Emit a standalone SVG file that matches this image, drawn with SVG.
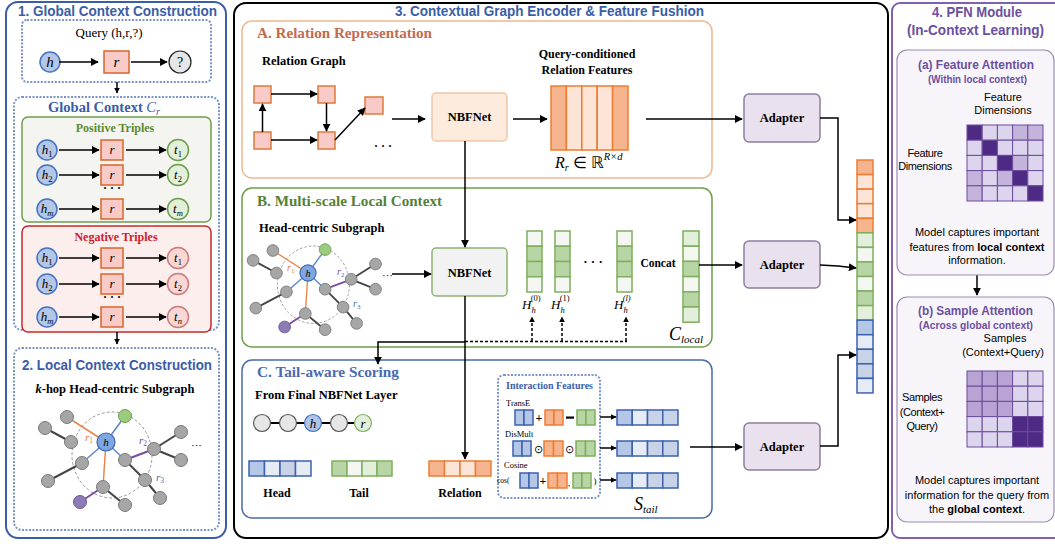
<svg xmlns="http://www.w3.org/2000/svg" width="1055" height="544" viewBox="0 0 1055 544">
<style>
.sans{font-family:"Liberation Sans",Arial,sans-serif}
.sb{font-family:"Liberation Sans",Arial,sans-serif;font-weight:bold}
.serif{font-family:"Liberation Serif","Times New Roman",serif}
.sbold{font-family:"Liberation Serif","Times New Roman",serif;font-weight:bold}
.it{font-style:italic}
.ln{stroke:#000;stroke-width:1.5;fill:none}
.dot{fill:none;stroke:#7A93C8;stroke-width:2;stroke-dasharray:2 1.5}
.hC{fill:#B4C7E7;stroke:#4472C4;stroke-width:1.5}
.rB{fill:#F8CBC8;stroke:#D9662A;stroke-width:1.5}
.tP{fill:#E2EFDA;stroke:#6E9E4C;stroke-width:1.5}
.tN{fill:#F8D7D5;stroke:#CC7A7A;stroke-width:1.5}
.o1{fill:#F6B48E;stroke:#ED7D31;stroke-width:1.5}
.o2{fill:#FCE4D6;stroke:#ED7D31;stroke-width:1.5}
.g1{fill:#B8D6A5;stroke:#7FAE5E;stroke-width:1.5}
.g2{fill:#E2EFDA;stroke:#7FAE5E;stroke-width:1.5}
.g3{fill:#F4F7F1;stroke:#7FAE5E;stroke-width:1.5}
.b1{fill:#B4C7E7;stroke:#3C62AE;stroke-width:1.5}
.b2{fill:#E6ECF6;stroke:#3C62AE;stroke-width:1.5}
.b3{fill:#C9D3E8;stroke:#3C62AE;stroke-width:1.5}
.pd{fill:#4E2A84;stroke:#6A4C9C;stroke-width:1}
.pm{fill:#C4B4DC;stroke:#6A4C9C;stroke-width:1}
.pl{fill:#DDD5EE;stroke:#6A4C9C;stroke-width:1}
.pb{fill:#B9A3D5;stroke:#6A4C9C;stroke-width:1}
.adp{fill:#E9E1EE;stroke:#8E7FA0;stroke-width:1.5}
.gn{fill:#A6A6A6;stroke:#7A7A7A;stroke-width:1}
.ed{stroke:#444;stroke-width:2}
.eb{stroke:#5A86D0;stroke-width:1.5}
.eo{stroke:#E8874A;stroke-width:1.5}
.ep{stroke:#7A4CA0;stroke-width:2}
.rel{fill:#F8CBC8;stroke:#E07A3A;stroke-width:1.5}
</style>
<defs>
<marker id="arr" viewBox="0 0 10 10" refX="9" refY="5" markerWidth="8" markerHeight="8" markerUnits="userSpaceOnUse" orient="auto"><path d="M0,0 L10,5 L0,10 z" fill="#000"/></marker>
<marker id="arrs" viewBox="0 0 10 10" refX="9" refY="5" markerWidth="6" markerHeight="6" markerUnits="userSpaceOnUse" orient="auto-start-reverse"><path d="M0,0 L10,5 L0,10 z" fill="#000"/></marker>
<g id="subg">
<ellipse cx="6" cy="13" rx="40" ry="43" fill="none" stroke="#999" stroke-width="1" stroke-dasharray="3 2"/>
<line class="eo" x1="-39" y1="-25" x2="0" y2="0"/>
<line class="eo" x1="0" y1="0" x2="-3" y2="45"/>
<line class="ed" x1="-61" y1="-14" x2="-35" y2="0"/>
<line class="ed" x1="-24" y1="21" x2="-58" y2="39"/>
<line class="ed" x1="48" y1="7" x2="75" y2="-10"/>
<line class="ed" x1="48" y1="7" x2="75" y2="18"/>
<line class="ed" x1="19" y1="18" x2="39" y2="38"/>
<line class="ed" x1="39" y1="38" x2="54" y2="56"/>
<line class="ed" x1="-3" y1="45" x2="19" y2="63"/>
<line class="eb" x1="0" y1="0" x2="19" y2="-26"/>
<line class="eb" x1="0" y1="0" x2="-24" y2="21"/>
<line class="eb" x1="0" y1="0" x2="19" y2="18"/>
<line class="ep" x1="19" y1="18" x2="48" y2="7"/>
<line class="ep" x1="-3" y1="45" x2="-26" y2="60"/>
<circle class="gn" cx="-39" cy="-25" r="6.5"/>
<circle class="gn" cx="-61" cy="-14" r="6.5"/>
<circle class="gn" cx="-35" cy="0" r="6.5"/>
<circle cx="19" cy="-26" r="6.5" fill="#9BCB7E" stroke="#6E9E4C"/>
<circle class="gn" cx="-24" cy="21" r="6.5"/>
<circle class="gn" cx="-58" cy="39" r="6.5"/>
<circle class="gn" cx="19" cy="18" r="6.5"/>
<circle class="gn" cx="48" cy="7" r="6.5"/>
<circle class="gn" cx="75" cy="-10" r="6.5"/>
<circle class="gn" cx="75" cy="18" r="6.5"/>
<circle class="gn" cx="39" cy="38" r="6.5"/>
<circle class="gn" cx="54" cy="56" r="6.5"/>
<circle class="gn" cx="-3" cy="45" r="6.5"/>
<circle cx="-26" cy="60" r="6.5" fill="#8C7BB5" stroke="#6A5A98"/>
<circle class="gn" cx="19" cy="63" r="6.5"/>
<circle cx="0" cy="0" r="9" fill="#7EA6E0" stroke="#3C64B0" stroke-width="1.2"/>
</g>
</defs>
<rect width="1055" height="544" fill="#fff"/>

<!-- Panel 1 -->
<g id="panel1">
<rect x="6" y="2" width="220" height="536" rx="12" fill="#fff" stroke="#3A5DA8" stroke-width="2"/>
<text class="sb" x="18" y="16" font-size="14.5" fill="#3A5DA8" textLength="199" lengthAdjust="spacingAndGlyphs">1. Global Context Construction</text>
</g>
<g id="query">
<rect class="dot" x="22" y="20" width="189" height="62" rx="5"/>
<text class="serif" x="109" y="37" font-size="13" text-anchor="middle">Query (h,r,?)</text>
<circle class="hC" cx="50" cy="62" r="10"/>
<text class="serif it" x="50" y="67" font-size="15" text-anchor="middle">h</text>
<rect class="rB" x="104" y="51" width="25" height="22"/>
<text class="serif it" x="116.5" y="67" font-size="15" text-anchor="middle">r</text>
<circle cx="180" cy="62" r="11" fill="#E6E6E6" stroke="#222" stroke-width="1.2"/>
<text class="serif" x="180" y="67" font-size="14" text-anchor="middle">?</text>
</g>
<g id="globalctx">
<rect class="dot" x="14" y="97" width="205" height="233" rx="8"/>
<text class="sbold" x="104" y="112" font-size="14.5" fill="#3A5DA8" text-anchor="middle">Global Context <tspan class="it" font-weight="normal">C</tspan><tspan class="it" font-weight="normal" font-size="10" dy="3">r</tspan></text>
</g>
<g id="positive">
<rect x="22" y="117" width="189" height="105" rx="6" fill="#F4F4F0" stroke="#6E9E4C" stroke-width="1.5"/>
<text class="sbold" x="115" y="132" font-size="12" fill="#5B8C32" text-anchor="middle">Positive Triples</text>
<circle class="hC" cx="47" cy="150" r="10"/><text class="serif it" x="47" y="154" font-size="13" text-anchor="middle">h<tspan font-style="normal" font-size="8.5" dy="2.5">1</tspan></text>
<rect class="rB" x="101" y="140" width="22" height="20"/><text class="serif it" x="112" y="154" font-size="13" text-anchor="middle">r</text>
<circle class="tP" cx="178" cy="150" r="10.5"/><text class="serif it" x="178" y="154" font-size="13" text-anchor="middle">t<tspan font-style="normal" font-size="8.5" dy="2.5">1</tspan></text>
<circle class="hC" cx="47" cy="175" r="10"/><text class="serif it" x="47" y="179" font-size="13" text-anchor="middle">h<tspan font-style="normal" font-size="8.5" dy="2.5">2</tspan></text>
<rect class="rB" x="101" y="165" width="22" height="20"/><text class="serif it" x="112" y="179" font-size="13" text-anchor="middle">r</text>
<circle class="tP" cx="178" cy="175" r="10.5"/><text class="serif it" x="178" y="179" font-size="13" text-anchor="middle">t<tspan font-style="normal" font-size="8.5" dy="2.5">2</tspan></text>
<text class="sbold" x="112" y="192" font-size="12" text-anchor="middle">· · ·</text>
<circle class="hC" cx="47" cy="209" r="10"/><text class="serif it" x="47" y="213" font-size="13" text-anchor="middle">h<tspan font-size="8.5" dy="2.5">m</tspan></text>
<rect class="rB" x="101" y="199" width="22" height="20"/><text class="serif it" x="112" y="213" font-size="13" text-anchor="middle">r</text>
<circle class="tP" cx="178" cy="209" r="10.5"/><text class="serif it" x="178" y="213" font-size="13" text-anchor="middle">t<tspan font-size="8.5" dy="2.5">m</tspan></text>
</g>
<g id="negative">
<rect x="22" y="226" width="189" height="106" rx="6" fill="#FDEEEE" stroke="#C62828" stroke-width="1.5"/>
<text class="sbold" x="116" y="241" font-size="12" fill="#D0202A" text-anchor="middle">Negative Triples</text>
<circle class="hC" cx="47" cy="258" r="10"/><text class="serif it" x="47" y="262" font-size="13" text-anchor="middle">h<tspan font-style="normal" font-size="8.5" dy="2.5">1</tspan></text>
<rect class="rB" x="101" y="248" width="22" height="20"/><text class="serif it" x="112" y="262" font-size="13" text-anchor="middle">r</text>
<circle class="tN" cx="178" cy="258" r="10.5"/><text class="serif it" x="178" y="262" font-size="13" text-anchor="middle">t<tspan font-style="normal" font-size="8.5" dy="2.5">1</tspan></text>
<circle class="hC" cx="47" cy="284" r="10"/><text class="serif it" x="47" y="288" font-size="13" text-anchor="middle">h<tspan font-style="normal" font-size="8.5" dy="2.5">2</tspan></text>
<rect class="rB" x="101" y="274" width="22" height="20"/><text class="serif it" x="112" y="288" font-size="13" text-anchor="middle">r</text>
<circle class="tN" cx="178" cy="284" r="10.5"/><text class="serif it" x="178" y="288" font-size="13" text-anchor="middle">t<tspan font-style="normal" font-size="8.5" dy="2.5">2</tspan></text>
<text class="sbold" x="112" y="301" font-size="12" text-anchor="middle">· · ·</text>
<circle class="hC" cx="47" cy="317" r="10"/><text class="serif it" x="47" y="321" font-size="13" text-anchor="middle">h<tspan font-size="8.5" dy="2.5">m</tspan></text>
<rect class="rB" x="101" y="307" width="22" height="20"/><text class="serif it" x="112" y="321" font-size="13" text-anchor="middle">r</text>
<circle class="tN" cx="178" cy="317" r="10.5"/><text class="serif it" x="178" y="321" font-size="13" text-anchor="middle">t<tspan font-size="8.5" dy="2.5">n</tspan></text>
</g>
<g id="localctx">
<rect class="dot" x="14" y="348" width="205" height="182" rx="8"/>
<text class="sb" x="22" y="370" font-size="14.5" fill="#3A5DA8" textLength="190" lengthAdjust="spacingAndGlyphs">2. Local Context Construction</text>
<text class="sbold" x="115" y="393" font-size="12.5" text-anchor="middle"><tspan class="it">k</tspan>-hop Head-centric Subgraph</text>
<use href="#subg" transform="translate(106,442)"/>
<text class="serif it" x="106" y="446" font-size="11" text-anchor="middle">h</text>
<text class="serif it" x="85" y="441" font-size="11" fill="#E07A3A">r<tspan font-style="normal" font-size="7.5" dy="2">1</tspan></text>
<text class="serif it" x="139" y="444" font-size="11" fill="#7A4CA0">r<tspan font-style="normal" font-size="7.5" dy="2">2</tspan></text>
<text class="serif it" x="156" y="481" font-size="11" fill="#4A6BAF">r<tspan font-style="normal" font-size="7.5" dy="2">3</tspan></text>
<text class="serif" x="191" y="449" font-size="11">···</text>
</g>

<!-- Section 3 -->
<g id="section3">
<rect x="234" y="3" width="654" height="535" rx="12" fill="none" stroke="#000" stroke-width="2"/>
<text class="sb" x="395" y="16" font-size="14.5" fill="#3A5DA8" textLength="309" lengthAdjust="spacingAndGlyphs">3. Contextual Graph Encoder &amp; Feature Fushion</text>
</g>
<g id="secA">
<rect x="242" y="21" width="470" height="157" rx="10" fill="#fff" stroke="#F0B890" stroke-width="1.5"/>
<text class="sbold" x="257" y="38" font-size="14.5" fill="#C46A4E" textLength="175" lengthAdjust="spacingAndGlyphs">A. Relation Representation</text>
<text class="sbold" x="262" y="65" font-size="12.5">Relation Graph</text>
<rect class="rel" x="254" y="86" width="17" height="17"/>
<rect class="rel" x="318" y="86" width="17" height="17"/>
<rect class="rel" x="254" y="132" width="17" height="17"/>
<rect class="rel" x="318" y="132" width="17" height="17"/>
<rect class="rel" x="365" y="97" width="18" height="17"/>
<text class="sbold" x="383" y="150" font-size="12" text-anchor="middle">· · ·</text>
<text class="sbold" x="587" y="58" font-size="12" text-anchor="middle">Query-conditioned</text>
<text class="sbold" x="587" y="74" font-size="12" text-anchor="middle">Relation Features</text>
<rect class="o1" x="551" y="86" width="15.4" height="64"/>
<rect class="o2" x="566.4" y="86" width="15.4" height="64"/>
<rect class="o2" x="581.8" y="86" width="15.4" height="64"/>
<rect class="o2" x="597.2" y="86" width="15.4" height="64"/>
<rect class="o1" x="612.6" y="86" width="15.4" height="64"/>
<text class="serif it" x="555" y="168" font-size="16">R<tspan font-size="10" dy="3">r</tspan><tspan font-style="normal" dy="-3"> ∈ ℝ</tspan><tspan font-size="10.5" dy="-8">R×d</tspan></text>
</g>
<g id="nbfA">
<rect x="432" y="93" width="75" height="48" rx="4" fill="#FDEBDD" stroke="#F0C8A8" stroke-width="1.5"/>
<text class="sbold" x="469.5" y="121" font-size="12.5" text-anchor="middle">NBFNet</text>
</g>
<g id="secB">
<rect x="242" y="188" width="470" height="159" rx="10" fill="#fff" stroke="#6E9E4C" stroke-width="1.5"/>
<text class="sbold" x="257" y="206" font-size="14.5" fill="#548235" textLength="185" lengthAdjust="spacingAndGlyphs">B. Multi-scale Local Context</text>
<text class="sbold" x="259" y="232" font-size="12.5">Head-centric Subgraph</text>
<use href="#subg" transform="translate(308,273) scale(0.9)"/>
<text class="serif it" x="308" y="277" font-size="10" text-anchor="middle">h</text>
<text class="serif it" x="287" y="271" font-size="10" fill="#E07A3A">r<tspan font-style="normal" font-size="7" dy="2">1</tspan></text>
<text class="serif it" x="337" y="275" font-size="10" fill="#7A4CA0">r<tspan font-style="normal" font-size="7" dy="2">2</tspan></text>
<text class="serif it" x="353" y="307" font-size="10" fill="#4A6BAF">r<tspan font-style="normal" font-size="7" dy="2">3</tspan></text>
<text class="serif" x="382" y="279" font-size="11">···</text>
<rect class="g3" x="527" y="231" width="15" height="15.25"/><rect class="g1" x="527" y="246.25" width="15" height="15.25"/><rect class="g1" x="527" y="261.5" width="15" height="15.25"/><rect class="g3" x="527" y="276.75" width="15" height="15.25"/>
<rect class="g3" x="555" y="231" width="15" height="15.25"/><rect class="g1" x="555" y="246.25" width="15" height="15.25"/><rect class="g1" x="555" y="261.5" width="15" height="15.25"/><rect class="g3" x="555" y="276.75" width="15" height="15.25"/>
<rect class="g3" x="617" y="231" width="15" height="15.25"/><rect class="g1" x="617" y="246.25" width="15" height="15.25"/><rect class="g1" x="617" y="261.5" width="15" height="15.25"/><rect class="g3" x="617" y="276.75" width="15" height="15.25"/>
<text class="sbold" x="593" y="266" font-size="13" text-anchor="middle">· · ·</text>
<text class="serif it" x="522" y="309" font-size="13">H<tspan font-size="8.5" dy="4">h</tspan><tspan font-style="normal" font-size="8.5" dx="-5" dy="-12">(0)</tspan></text>
<text class="serif it" x="551" y="309" font-size="13">H<tspan font-size="8.5" dy="4">h</tspan><tspan font-style="normal" font-size="8.5" dx="-5" dy="-12">(1)</tspan></text>
<text class="serif it" x="614" y="309" font-size="13">H<tspan font-size="8.5" dy="4">h</tspan><tspan font-size="8.5" dx="-5" dy="-12">(<tspan>l</tspan>)</tspan></text>
<text class="sbold" x="658" y="267" font-size="11.5" text-anchor="middle">Concat</text>
<rect class="g2" x="683" y="231" width="16" height="15.2"/><rect class="g3" x="683" y="246.2" width="16" height="15.2"/><rect class="g1" x="683" y="261.4" width="16" height="15.2"/><rect class="g3" x="683" y="276.6" width="16" height="15.2"/><rect class="g1" x="683" y="291.8" width="16" height="15.2"/><rect class="g2" x="683" y="307" width="16" height="15.2"/>
<text class="serif it" x="669" y="340" font-size="18">C<tspan font-size="11" dy="3">local</tspan></text>
</g>
<g id="nbfB">
<rect x="432" y="248" width="75" height="48" rx="4" fill="#F2F2F2" stroke="#8DB173" stroke-width="1.5"/>
<text class="sbold" x="469.5" y="277" font-size="12.5" text-anchor="middle">NBFNet</text>
</g>
<g id="secC">
<rect x="242" y="360" width="470" height="158" rx="10" fill="#fff" stroke="#4A6BAF" stroke-width="1.5"/>
<text class="sbold" x="257" y="377" font-size="14.5" fill="#4A6BAF" textLength="142" lengthAdjust="spacingAndGlyphs">C. Tail-aware Scoring</text>
<text class="sbold" x="255" y="399" font-size="12.5">From Final NBFNet Layer</text>
<line x1="262" y1="423" x2="363" y2="423" stroke="#000" stroke-width="2"/>
<circle cx="262" cy="423" r="8.5" fill="#E6E6E6" stroke="#555" stroke-width="1.2"/>
<circle cx="288" cy="423" r="8.5" fill="#E6E6E6" stroke="#555" stroke-width="1.2"/>
<circle cx="313" cy="423" r="8.5" fill="#AFC4E6" stroke="#4472C4" stroke-width="1.2"/>
<text class="serif it" x="313" y="427.5" font-size="13" text-anchor="middle">h</text>
<circle cx="339" cy="423" r="8.5" fill="#E6E6E6" stroke="#555" stroke-width="1.2"/>
<circle cx="363" cy="423" r="8.5" fill="#E2EFDA" stroke="#7FAE5E" stroke-width="1.2"/>
<text class="serif it" x="363" y="427.5" font-size="13" text-anchor="middle">r</text>
<rect class="b1" x="249" y="461" width="15.5" height="15"/><rect class="b2" x="264.5" y="461" width="15.5" height="15"/><rect class="b3" x="280" y="461" width="15.5" height="15"/><rect class="b2" x="295.5" y="461" width="15.5" height="15"/>
<rect class="g1" x="332" y="461" width="15" height="15"/><rect class="g3" x="347" y="461" width="15" height="15"/><rect class="g2" x="362" y="461" width="15" height="15"/><rect class="g1" x="377" y="461" width="15" height="15"/>
<rect class="o1" x="429" y="461" width="15.5" height="15"/><rect class="o2" x="444.5" y="461" width="15.5" height="15"/><rect class="o2" x="460" y="461" width="15.5" height="15"/><rect class="o1" x="475.5" y="461" width="15.5" height="15"/>
<text class="sbold" x="277" y="497" font-size="12" text-anchor="middle">Head</text>
<text class="sbold" x="359" y="497" font-size="12" text-anchor="middle">Tail</text>
<text class="sbold" x="460" y="497" font-size="12" text-anchor="middle">Relation</text>
</g>
<g id="interaction">
<rect class="dot" x="498" y="375" width="102" height="123" rx="6"/>
<text class="sbold" x="549.5" y="389" font-size="9.5" fill="#3A5DA8" text-anchor="middle" textLength="87" lengthAdjust="spacingAndGlyphs">Interaction Features</text>
<text class="serif" x="506" y="406" font-size="8.5">TransE</text>
<rect class="b1" x="515" y="410" width="9" height="15"/><rect class="b1" x="524" y="410" width="9" height="15"/>
<text class="sbold" x="539" y="421.5" font-size="12" text-anchor="middle">+</text>
<rect class="o1" x="545" y="410" width="9" height="15"/><rect class="o1" x="554" y="410" width="9" height="15"/>
<rect x="566" y="416.5" width="8" height="2.2" fill="#000"/>
<rect class="g1" x="577" y="410" width="9" height="15"/><rect class="g1" x="586" y="410" width="9" height="15"/>
<text class="serif" x="505" y="437" font-size="8.5">DisMult</text>
<rect class="b1" x="513" y="441" width="9" height="15"/><rect class="b1" x="522" y="441" width="9" height="15"/>
<text class="sans" x="538" y="452.5" font-size="11" text-anchor="middle">⊙</text>
<rect class="o1" x="544" y="441" width="9.5" height="15"/><rect class="o1" x="553.5" y="441" width="9.5" height="15"/>
<text class="sans" x="569.5" y="452.5" font-size="11" text-anchor="middle">⊙</text>
<rect class="g1" x="576" y="441" width="9.5" height="15"/><rect class="g1" x="585.5" y="441" width="9.5" height="15"/>
<text class="serif" x="504" y="468" font-size="8.5">Cosine</text>
<text class="serif" x="497" y="483" font-size="7.5">cos(</text>
<rect class="b1" x="520" y="473" width="9" height="15"/><rect class="b1" x="529" y="473" width="9" height="15"/>
<text class="sbold" x="543" y="484.5" font-size="12" text-anchor="middle">+</text>
<rect class="o1" x="548" y="473" width="9.5" height="15"/><rect class="o1" x="557.5" y="473" width="9.5" height="15"/>
<text class="serif" x="569" y="486" font-size="9" text-anchor="middle">,</text>
<rect class="g1" x="573" y="473" width="9" height="15"/><rect class="g1" x="582" y="473" width="9" height="15"/>
<text class="serif" x="595" y="484" font-size="9" text-anchor="middle">)</text>
<rect class="b1" x="617" y="410" width="15.25" height="15"/><rect class="b2" x="632.25" y="410" width="15.25" height="15"/><rect class="b3" x="647.5" y="410" width="15.25" height="15"/><rect class="b3" x="662.75" y="410" width="15.25" height="15"/>
<rect class="b1" x="617" y="441" width="15.25" height="15"/><rect class="b2" x="632.25" y="441" width="15.25" height="15"/><rect class="b3" x="647.5" y="441" width="15.25" height="15"/><rect class="b3" x="662.75" y="441" width="15.25" height="15"/>
<rect class="b1" x="617" y="473" width="15.25" height="15"/><rect class="b2" x="632.25" y="473" width="15.25" height="15"/><rect class="b3" x="647.5" y="473" width="15.25" height="15"/><rect class="b3" x="662.75" y="473" width="15.25" height="15"/>
<text class="serif it" x="634" y="510" font-size="18">S<tspan font-size="11" dy="3">tail</tspan></text>
</g>
<g id="adapter1"><rect class="adp" x="744" y="94" width="76" height="48" rx="5"/><text class="sbold" x="782" y="122" font-size="12.5" text-anchor="middle">Adapter</text></g>
<g id="adapter2"><rect class="adp" x="744" y="241" width="76" height="47" rx="5"/><text class="sbold" x="782" y="269" font-size="12.5" text-anchor="middle">Adapter</text></g>
<g id="adapter3"><rect class="adp" x="744" y="423" width="76" height="47" rx="5"/><text class="sbold" x="782" y="451" font-size="12.5" text-anchor="middle">Adapter</text></g>
<g id="fused">
<rect class="o1" x="857" y="160" width="16" height="14.56"/>
<rect class="o2" x="857" y="174.56" width="16" height="14.56"/>
<rect class="o2" x="857" y="189.12" width="16" height="14.56"/>
<rect class="o2" x="857" y="203.68" width="16" height="14.56"/>
<rect class="o1" x="857" y="218.24" width="16" height="14.56"/>
<rect class="g2" x="857" y="232.8" width="16" height="14.56"/>
<rect class="g3" x="857" y="247.36" width="16" height="14.56"/>
<rect class="g1" x="857" y="261.92" width="16" height="14.56"/>
<rect class="g3" x="857" y="276.48" width="16" height="14.56"/>
<rect class="g1" x="857" y="291.04" width="16" height="14.56"/>
<rect class="g2" x="857" y="305.6" width="16" height="14.56"/>
<rect class="b1" x="857" y="320.16" width="16" height="14.56"/>
<rect class="b2" x="857" y="334.72" width="16" height="14.56"/>
<rect class="b3" x="857" y="349.28" width="16" height="14.56"/>
<rect class="b3" x="857" y="363.84" width="16" height="14.56"/>
<rect class="b2" x="857" y="378.4" width="16" height="14.56"/>
</g>

<!-- Connectors -->
<g id="connectors" fill="none">
<line class="ln" x1="59" y1="62" x2="98" y2="62" marker-end="url(#arr)"/>
<line class="ln" x1="131" y1="62" x2="167" y2="62" marker-end="url(#arr)"/>
<line class="ln" x1="117" y1="82" x2="117" y2="93" stroke-width="1.2" marker-end="url(#arrs)"/>
<line class="ln" x1="59" y1="150" x2="99" y2="150" marker-end="url(#arr)"/>
<line class="ln" x1="126" y1="150" x2="166" y2="150" marker-end="url(#arr)"/>
<line class="ln" x1="59" y1="175" x2="99" y2="175" marker-end="url(#arr)"/>
<line class="ln" x1="126" y1="175" x2="166" y2="175" marker-end="url(#arr)"/>
<line class="ln" x1="59" y1="209" x2="99" y2="209" marker-end="url(#arr)"/>
<line class="ln" x1="126" y1="209" x2="166" y2="209" marker-end="url(#arr)"/>
<line class="ln" x1="59" y1="258" x2="99" y2="258" marker-end="url(#arr)"/>
<line class="ln" x1="126" y1="258" x2="166" y2="258" marker-end="url(#arr)"/>
<line class="ln" x1="59" y1="284" x2="99" y2="284" marker-end="url(#arr)"/>
<line class="ln" x1="126" y1="284" x2="166" y2="284" marker-end="url(#arr)"/>
<line class="ln" x1="59" y1="317" x2="99" y2="317" marker-end="url(#arr)"/>
<line class="ln" x1="126" y1="317" x2="166" y2="317" marker-end="url(#arr)"/>
<line class="ln" x1="117" y1="332" x2="117" y2="344" stroke-width="1.2" marker-end="url(#arrs)"/>
<line class="ln" x1="271" y1="94" x2="317" y2="94" marker-end="url(#arr)"/>
<line class="ln" x1="271" y1="140" x2="317" y2="140" stroke="#444" stroke-width="2" marker-end="url(#arr)"/>
<line class="ln" x1="262.5" y1="132" x2="262.5" y2="104" stroke="#444" stroke-width="2" marker-end="url(#arr)"/>
<line class="ln" x1="326.5" y1="103" x2="326.5" y2="131" stroke="#444" stroke-width="2" marker-end="url(#arr)"/>
<line class="ln" x1="335" y1="140" x2="365" y2="108" marker-end="url(#arr)"/>
<line class="ln" x1="392" y1="119" x2="425" y2="119" marker-end="url(#arr)"/>
<line class="ln" x1="513" y1="119" x2="547" y2="119" marker-end="url(#arr)"/>
<line class="ln" x1="646" y1="119" x2="742" y2="119" marker-end="url(#arr)"/>
<line class="ln" x1="465" y1="141" x2="465" y2="247" stroke="#333" stroke-width="1.8" marker-end="url(#arr)"/>
<line class="ln" x1="392" y1="274" x2="431" y2="274" marker-end="url(#arr)"/>
<line class="ln" x1="465" y1="296" x2="465" y2="459" stroke="#333" stroke-width="1.8" marker-end="url(#arr)"/>
<polyline class="ln" points="465,342 378,342 378,364" stroke-width="2" marker-end="url(#arr)"/>
<polyline class="ln" points="465,341.5 627,341.5" stroke-width="1.2" stroke-dasharray="3 2"/>
<line class="ln" x1="532" y1="341" x2="532" y2="317" stroke-width="1.2" stroke-dasharray="3 2" marker-end="url(#arrs)"/>
<line class="ln" x1="562" y1="341" x2="562" y2="317" stroke-width="1.2" stroke-dasharray="3 2" marker-end="url(#arrs)"/>
<line class="ln" x1="626" y1="341" x2="626" y2="317" stroke-width="1.2" stroke-dasharray="3 2" marker-end="url(#arrs)"/>
<line class="ln" x1="699" y1="265" x2="742" y2="265" stroke-width="1.2" marker-end="url(#arr)"/>
<line class="ln" x1="600" y1="417" x2="616" y2="417" stroke-width="1.2" marker-end="url(#arrs)"/>
<line class="ln" x1="600" y1="448" x2="616" y2="448" stroke-width="1.2" marker-end="url(#arrs)"/>
<line class="ln" x1="600" y1="480" x2="616" y2="480" stroke-width="1.2" marker-end="url(#arrs)"/>
<line class="ln" x1="690" y1="447" x2="742" y2="447" marker-end="url(#arr)"/>
<polyline class="ln" points="820,118 838,118 838,220 856,220" stroke-width="1.2" marker-end="url(#arr)"/>
<polyline class="ln" points="820,265 838,266 856,268" stroke-width="1.2" marker-end="url(#arr)"/>
<polyline class="ln" points="820,446 838,446 838,355 856,355" stroke-width="1.2" marker-end="url(#arr)"/>
<line class="ln" x1="977" y1="275" x2="977" y2="295" marker-end="url(#arr)"/>
<line class="ln" x1="967" y1="117" x2="1045" y2="117" stroke-width="1.2" marker-start="url(#arrs)" marker-end="url(#arrs)"/>
<line class="ln" x1="956" y1="127" x2="956" y2="202" stroke-width="1.2" marker-start="url(#arrs)" marker-end="url(#arrs)"/>
<line class="ln" x1="967" y1="363" x2="1045" y2="363" stroke-width="1.2" marker-start="url(#arrs)" marker-end="url(#arrs)"/>
<line class="ln" x1="956" y1="373" x2="956" y2="450" stroke-width="1.2" marker-start="url(#arrs)" marker-end="url(#arrs)"/>
</g>

<!-- Panel 4 -->
<g id="panel4">
<rect x="892" y="3" width="170" height="535" rx="8" fill="none" stroke="#8060B0" stroke-width="2"/>
<text class="sb" x="932" y="17" font-size="14.5" fill="#6B4FA0" textLength="90" lengthAdjust="spacingAndGlyphs">4. PFN Module</text>
<text class="sb" x="907" y="35" font-size="14.5" fill="#6B4FA0" textLength="137" lengthAdjust="spacingAndGlyphs">(In-Context Learning)</text>
</g>
<g id="featattn">
<rect x="897" y="50" width="157" height="225" rx="10" fill="#F7F5FA" stroke="#9A8AB0" stroke-width="1.2"/>
<text class="sb" x="918" y="69" font-size="12" fill="#6B4FA0" textLength="116" lengthAdjust="spacingAndGlyphs">(a) Feature Attention</text>
<text class="sb" x="928" y="83" font-size="10" fill="#6B4FA0" textLength="99" lengthAdjust="spacingAndGlyphs">(Within local context)</text>
<text class="sans" x="1003" y="101" font-size="11" text-anchor="middle">Feature</text>
<text class="sans" x="1003" y="114" font-size="11" text-anchor="middle">Dimensions</text>
<text class="sans" x="925" y="157" font-size="11" text-anchor="middle" letter-spacing="-0.4">Feature</text>
<text class="sans" x="925" y="170" font-size="11" text-anchor="middle" letter-spacing="-0.4">Dimensions</text>
<rect class="pd" x="967" y="125" width="15.2" height="15.2"/><rect class="pl" x="982.2" y="125" width="15.2" height="15.2"/><rect class="pl" x="997.4" y="125" width="15.2" height="15.2"/><rect class="pm" x="1012.6" y="125" width="15.2" height="15.2"/><rect class="pm" x="1027.8" y="125" width="15.2" height="15.2"/>
<rect class="pl" x="967" y="140.2" width="15.2" height="15.2"/><rect class="pd" x="982.2" y="140.2" width="15.2" height="15.2"/><rect class="pl" x="997.4" y="140.2" width="15.2" height="15.2"/><rect class="pl" x="1012.6" y="140.2" width="15.2" height="15.2"/><rect class="pl" x="1027.8" y="140.2" width="15.2" height="15.2"/>
<rect class="pl" x="967" y="155.4" width="15.2" height="15.2"/><rect class="pl" x="982.2" y="155.4" width="15.2" height="15.2"/><rect class="pd" x="997.4" y="155.4" width="15.2" height="15.2"/><rect class="pm" x="1012.6" y="155.4" width="15.2" height="15.2"/><rect class="pl" x="1027.8" y="155.4" width="15.2" height="15.2"/>
<rect class="pm" x="967" y="170.6" width="15.2" height="15.2"/><rect class="pl" x="982.2" y="170.6" width="15.2" height="15.2"/><rect class="pm" x="997.4" y="170.6" width="15.2" height="15.2"/><rect class="pd" x="1012.6" y="170.6" width="15.2" height="15.2"/><rect class="pl" x="1027.8" y="170.6" width="15.2" height="15.2"/>
<rect class="pm" x="967" y="185.8" width="15.2" height="15.2"/><rect class="pl" x="982.2" y="185.8" width="15.2" height="15.2"/><rect class="pl" x="997.4" y="185.8" width="15.2" height="15.2"/><rect class="pl" x="1012.6" y="185.8" width="15.2" height="15.2"/><rect class="pd" x="1027.8" y="185.8" width="15.2" height="15.2"/>
<text class="sans" x="977" y="236" font-size="11" text-anchor="middle">Model captures important</text>
<text class="sans" x="977" y="251" font-size="11" text-anchor="middle">features from <tspan font-weight="bold">local context</tspan></text>
<text class="sans" x="977" y="264" font-size="11" text-anchor="middle">information.</text>
</g>
<g id="sampattn">
<rect x="897" y="297" width="157" height="225" rx="10" fill="#F7F5FA" stroke="#9A8AB0" stroke-width="1.2"/>
<text class="sb" x="918" y="315" font-size="12" fill="#6B4FA0" textLength="115" lengthAdjust="spacingAndGlyphs">(b) Sample Attention</text>
<text class="sb" x="919" y="329" font-size="10" fill="#6B4FA0" textLength="114" lengthAdjust="spacingAndGlyphs">(Across global context)</text>
<text class="sans" x="1005" y="342" font-size="11" text-anchor="middle">Samples</text>
<text class="sans" x="1003" y="356" font-size="11" text-anchor="middle">(Context+Query)</text>
<text class="sans" x="922" y="401" font-size="11" text-anchor="middle" letter-spacing="-0.4">Samples</text>
<text class="sans" x="922" y="416" font-size="11" text-anchor="middle" letter-spacing="-0.4">(Context+</text>
<text class="sans" x="922" y="430" font-size="11" text-anchor="middle" letter-spacing="-0.4">Query)</text>
<rect class="pb" x="967" y="371" width="15.2" height="15.2"/><rect class="pb" x="982.2" y="371" width="15.2" height="15.2"/><rect class="pb" x="997.4" y="371" width="15.2" height="15.2"/><rect class="pl" x="1012.6" y="371" width="15.2" height="15.2"/><rect class="pl" x="1027.8" y="371" width="15.2" height="15.2"/>
<rect class="pb" x="967" y="386.2" width="15.2" height="15.2"/><rect class="pb" x="982.2" y="386.2" width="15.2" height="15.2"/><rect class="pb" x="997.4" y="386.2" width="15.2" height="15.2"/><rect class="pl" x="1012.6" y="386.2" width="15.2" height="15.2"/><rect class="pl" x="1027.8" y="386.2" width="15.2" height="15.2"/>
<rect class="pb" x="967" y="401.4" width="15.2" height="15.2"/><rect class="pb" x="982.2" y="401.4" width="15.2" height="15.2"/><rect class="pb" x="997.4" y="401.4" width="15.2" height="15.2"/><rect class="pl" x="1012.6" y="401.4" width="15.2" height="15.2"/><rect class="pl" x="1027.8" y="401.4" width="15.2" height="15.2"/>
<rect class="pl" x="967" y="416.6" width="15.2" height="15.2"/><rect class="pl" x="982.2" y="416.6" width="15.2" height="15.2"/><rect class="pl" x="997.4" y="416.6" width="15.2" height="15.2"/><rect class="pd" x="1012.6" y="416.6" width="15.2" height="15.2"/><rect class="pd" x="1027.8" y="416.6" width="15.2" height="15.2"/>
<rect class="pl" x="967" y="431.8" width="15.2" height="15.2"/><rect class="pl" x="982.2" y="431.8" width="15.2" height="15.2"/><rect class="pl" x="997.4" y="431.8" width="15.2" height="15.2"/><rect class="pd" x="1012.6" y="431.8" width="15.2" height="15.2"/><rect class="pd" x="1027.8" y="431.8" width="15.2" height="15.2"/>
<text class="sans" x="977" y="484" font-size="11" text-anchor="middle">Model captures important</text>
<text class="sans" x="977" y="499" font-size="11" text-anchor="middle">information for the query from</text>
<text class="sans" x="977" y="513" font-size="11" text-anchor="middle">the <tspan font-weight="bold">global context</tspan>.</text>
</g>
</svg>
